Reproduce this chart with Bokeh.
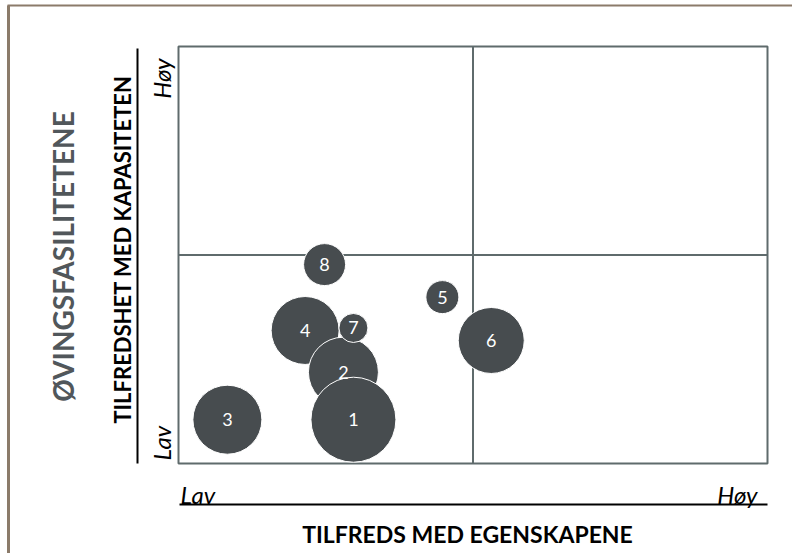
import math
from bokeh.plotting import figure
from bokeh.models import Range1d, ColumnDataSource
from bokeh.core.properties import value
from bokeh.embed import file_html
from bokeh.resources import INLINE

# ---- data (bubble chart, axes run from 0 = "Lav" to 10 = "Høy") ----
labels = ["3", "4", "2", "1", "7", "8", "5", "6"]
sat_properties = [0.83, 2.15, 2.80, 2.97, 2.97, 2.48, 4.48, 5.31]
sat_capacity = [1.05, 3.19, 2.19, 1.05, 3.25, 4.77, 3.99, 2.95]
bubble_size = [69, 68, 70, 85, 29, 42, 33, 66]

x_title = "TILFREDS MED EGENSKAPENE"
y_title = "TILFREDSHET MED KAPASITETEN"
group_title = "ØVINGSFASILITETENE"
low_label = "Lav"
high_label = "Høy"

# ---- geometry: page pixels of the quadrant box ----
W, H = 792, 553
BX0, BX1 = 178, 767
BY0, BY1 = 463, 46
kx = (BX1 - BX0) / 10.0
ky = (BY0 - BY1) / 10.0


def dx(px):
    return (px - BX0) / kx


def dy(py):
    return (BY0 - py) / ky


p = figure(width=W, height=H, output_backend="svg", toolbar_location=None,
           x_range=Range1d(dx(0), dx(W)), y_range=Range1d(dy(H), dy(0)),
           x_axis_location=None, y_axis_location=None, min_border=0,
           outline_line_color=None, background_fill_color="white",
           border_fill_color="white")
p.xgrid.visible = False
p.ygrid.visible = False

# slide border
p.segment(x0=[dx(7)], y0=[dy(5)], x1=[dx(800)], y1=[dy(5)],
          line_color="#8b7b6a", line_width=2)
p.segment(x0=[dx(8)], y0=[dy(5)], x1=[dx(8)], y1=[dy(560)],
          line_color="#8b7b6a", line_width=3)

# quadrant box
FRAME = "#5f6b6c"
p.quad(left=[0], right=[10], bottom=[0], top=[10], fill_color=None,
       line_color=FRAME, line_width=2)
p.segment(x0=[5, 0], y0=[0, 5], x1=[5, 10], y1=[10, 5],
          line_color=FRAME, line_width=2)

# bubbles
src = ColumnDataSource(dict(x=sat_properties, y=sat_capacity,
                            s=bubble_size, t=labels))
p.scatter(x="x", y="y", size="s", source=src, marker="circle",
          fill_color="#474c4f", line_color="white", line_width=1)
p.text(x="x", y="y", text="t", source=src, text_color="white",
       text_font=value("Lato"), text_font_size="18px",
       text_align="center", text_baseline="middle")

# bottom axis decoration
p.segment(x0=[dx(179)], y0=[dy(504)], x1=[dx(767)], y1=[dy(504)],
          line_color="black", line_width=2)
p.text(x=[dx(180)], y=[dy(494)], text=[low_label], text_color="black",
       text_font=value("Lato"), text_font_style="italic", text_font_size="24px",
       text_align="left", text_baseline="alphabetic")
p.text(x=[dx(757)], y=[dy(494)], text=[high_label], text_color="black",
       text_font=value("Lato"), text_font_style="italic", text_font_size="24px",
       text_align="right", text_baseline="alphabetic")
p.text(x=[dx(467)], y=[dy(533)], text=[x_title], text_color="black",
       text_font=value("Lato"), text_font_style="bold", text_font_size="23px",
       text_align="center", text_baseline="alphabetic")

# left axis decoration
p.segment(x0=[dx(137)], y0=[dy(48)], x1=[dx(137)], y1=[dy(463)],
          line_color="black", line_width=2)
p.text(x=[dx(161)], y=[dy(460)], text=[low_label], text_color="black",
       angle=math.pi / 2, text_font=value("Lato"), text_font_style="italic",
       text_font_size="24px", text_align="left", text_baseline="alphabetic")
p.text(x=[dx(161)], y=[dy(58)], text=[high_label], text_color="black",
       angle=math.pi / 2, text_font=value("Lato"), text_font_style="italic",
       text_font_size="24px", text_align="right", text_baseline="alphabetic")
p.text(x=[dx(122)], y=[dy(249)], text=[y_title], text_color="black",
       angle=math.pi / 2, text_font=value("Lato"), text_font_style="bold",
       text_font_size="22px", text_align="center", text_baseline="alphabetic")
p.text(x=[dx(62)], y=[dy(256)], text=[group_title], text_color="#51575b",
       angle=math.pi / 2, text_font=value("Lato"), text_font_style="bold",
       text_font_size="28px", text_align="center", text_baseline="alphabetic")

open("out.html", "w").write(file_html(p, INLINE))
